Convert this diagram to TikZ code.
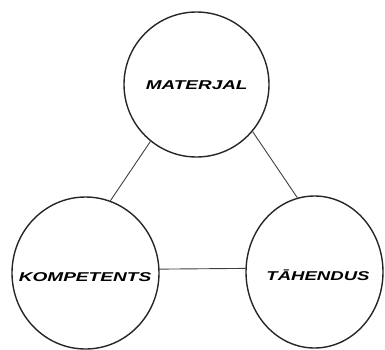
\documentclass[tikz,border=0pt]{standalone}
\usepackage{fontspec}
\setmainfont{Liberation Sans}
\usetikzlibrary{shapes.geometric}
\begin{document}
\begin{tikzpicture}[x=1pt,y=-1pt,
  concept/.style={draw=black!85, line width=1.4pt, ellipse, inner sep=0pt},
  link/.style={draw=black!75, line width=0.9pt},
  lbl/.style={font=\fontsize{12.8}{14}\selectfont\bfseries\itshape, inner sep=0pt}]
  \useasboundingbox (0,0) rectangle (385,349);
  % the three concept circles
  \node[concept, minimum width=145pt, minimum height=145pt] (mat) at (196.5,84.5) {};
  \node[concept, minimum width=147pt, minimum height=152pt] (kom) at (85.5,273) {};
  \node[concept, minimum width=137pt, minimum height=152pt] (tah) at (314.5,272) {};
  % labels, set wide
  \node[lbl] (tmat) at (196.7,85.2) {\scalebox{1.48}[1]{MATERJAL}};
  \node[lbl] (tkom) at (85,277.5) {\scalebox{1.49}[1]{KOMPETENTS}};
  \node[lbl] (ttah) at (318,275.5) {\scalebox{1.45}[1]{TĀHENDUS}};
  % connectors between the circles
  \draw[link] (mat.231) -- (kom.71);
  \draw[link] (mat.320) -- (tah.103);
  \draw[link] (kom.3) -- (tah.177.5);
\end{tikzpicture}
\end{document}
